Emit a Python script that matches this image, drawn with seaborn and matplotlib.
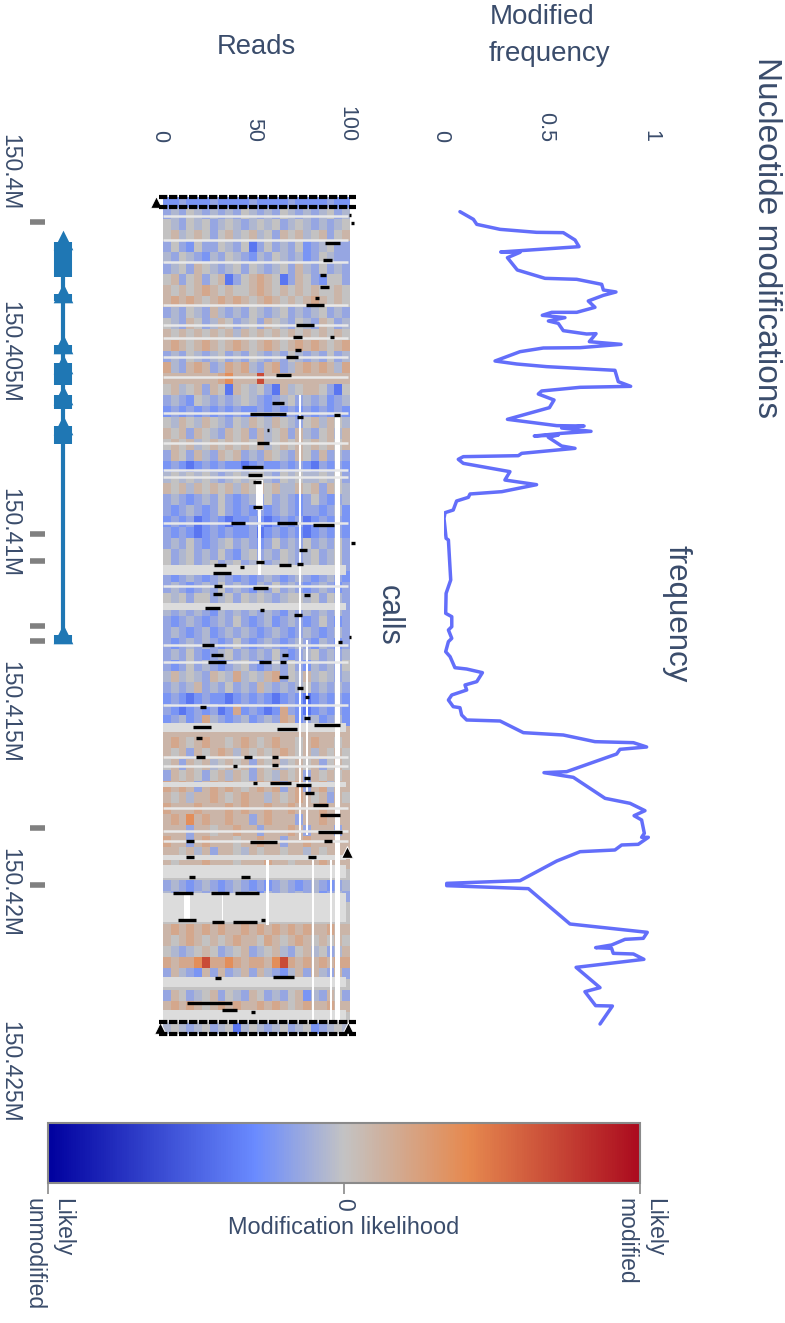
import numpy as np
import pandas as pd
import matplotlib
matplotlib.use('Agg')
import matplotlib.pyplot as plt
from matplotlib.colors import LinearSegmentedColormap
from matplotlib.transforms import ScaledTranslation
import seaborn as sns

# all positions along the gene are kb after 150.4M
freq_kb = [1.102,1.315,1.454,1.593,1.676,1.685,1.889,2.074,2.148,2.222,2.231,2.38,2.722,2.954,2.981,3.12,3.278,3.333,3.426,3.583,3.759,3.898,3.898,3.981,4.046,4.139,4.204,4.407,4.5,4.491,4.713,4.787,4.88,4.889,4.991,5.25,5.333,5.407,5.509,5.824,5.954,5.981,6.083,6.167,6.333,6.546,6.87,7.046,7.056,7.111,7.204,7.259,7.333,7.306,7.37,7.611,7.676,7.741,7.815,7.88,7.907,7.981,8.093,8.324,8.556,8.685,8.88,8.944,9.037,9.139,9.389,9.463,9.62,10.176,10.222,11.333,11.704,12.259,12.352,12.63,12.722,12.954,13.046,13.324,13.463,13.769,13.806,13.907,14.157,14.25,14.389,14.528,14.667,14.852,14.88,15.083,15.222,15.25,15.574,15.639,15.824,15.852,15.972,16.037,16.167,16.657,16.685,16.815,17.398,17.537,17.741,17.88,18.0,18.37,18.481,18.481,18.676,18.694,18.833,18.88,19.139,19.685,19.76,19.824,19.907,20.889,21.12,21.287,21.315,21.472,21.546,21.565,21.704,21.722,21.87,22.093,22.657,22.769,23.157,23.167,23.667]
freq_val = [.076,.14,.156,.267,.441,.568,.624,.643,.457,.27,.362,.302,.349,.481,.632,.751,.759,.819,.759,.687,.719,.632,.513,.468,.576,.497,.544,.568,.679,.724,.692,.843,.648,.473,.362,.243,.346,.489,.814,.83,.889,.648,.465,.449,.524,.502,.302,.537,.667,.56,.7,.56,.43,.544,.497,.56,.624,.505,.37,.354,.092,.068,.092,.314,.29,.441,.275,.124,.116,.06,.044,.005,0,.01,.021,.032,.01,.008,.037,.037,.021,.037,.021,.008,.029,.052,.108,.183,.156,.1,.108,.037,.021,.044,.076,.084,.108,.267,.378,.568,.719,.902,.965,.838,.822,.584,.476,.616,.767,.886,.957,.905,.941,.954,.941,.973,.925,.846,.814,.648,.537,.362,.013,.013,.402,.6,.968,.949,.862,.798,.722,.798,.806,.902,.952,.629,.743,.671,.722,.802,.743]

freq_ticks = [0, 0.5, 1]
read_ticks = [0, 50, 100]
genome_ticks = [0, 5, 10, 15, 20, 25]
genome_labels = ['150.4M', '150.405M', '150.41M', '150.415M', '150.42M', '150.425M']

rug_kb = [1.39, 10.06, 10.81, 12.61, 13.03, 18.22, 19.81]
gene_span = [1.9, 13.0]
gene_marks = [1.89,3.36,4.78,5.34,6.2,7.03,12.82]
exon_from = [1.95,3.4,4.8,5.3,6.2,7.05,12.85]
exon_to = [2.92,3.58,5.06,5.92,6.58,7.56,13.11]

# letters run from blue through grey to red
tone = {'a':-.4,'b':-.25,'c':-.15,'d':-.07,'e':0,'f':.1,'g':.2,'h':.38,'i':.7}
call_rows = [
'bbcbbbcbbbbcbbbbcbbbbcbb','cdcedcdcdcedcdcedcdcdecd','edcedecdedcdedecdedcdcde','efdefecefdefdecfefdefcef',
'cecbeccedceacecdcebcdecc','dcedcbdcedcbdcedcdbcedcc','cdecfedcdecedcdecfdcecdc','efcefcefacefgfeacfecbeec',
'fefefgfefeefgfefefefeefe','fgfgfefgfgfefgfefefgfefe','cdcedcfdcdcedcdecdcdecdc','edcfecdfecdecfedcedcfecd',
'fefefefefdfefefefefefefe','fgfefgfefgfefgfefgfgfefg','cdcedcdecdcedcdcedcdcecd','gdcfgfcdgfgdcfgcdfgfgfdg',
'fffffffghfffifffffffffff','efdefcfeafedecafdeffecae','cdcbedcdcdedcbcdecdcdbcd','bcbcbcbcbcbbcbcbcbcbcbcb',
'edfedfedcedfedfedcefdfed','fefcfedcfefcfdefcfdcefdf','efefdefefefefdefefefefef','cfecfdcfefcdcfedcfecfcdc',
'bcbabcbcbbabcbbcbcbacbcb','dedededcdedeedcededdedec','fefdfefefdfefefddfefcfed','cdcbcdcecbcdcecdcbcecbcd',
'cbcdcbcecbcbcbcdcbccbcdb','bcbcabcbabbcbabcbcabcbcb','cbcbabcbcbbcabcbcbabcbcb','cdcecbcdecdcbcecdcecdcec',
'ecdecdcecbdecdcedcdecdec','ecdecdecdecdecdedcdecdec','cbcdcbcdcbcbcdcbcdcbcdcb','cdcbcdcecdcbdcecdcbcdcbc',
'edeceecdecededcdeedecedc','dcdcdcbdcdcdcdcbdcdcdcdc','cbcdcbcdcecbcdbcdcbcecbc','cdcbcdbcdcdcbcdcbcdcbcdc',
'cbcdcdcbcecbcdcbcdcbdcbc','cdcecbcdecdcdcecbcdecdcd','cbcecdcbcdecbcdcecbdcdce','dfdedcfedgdedfgcedfdedcd',
'cdcdfcdcecdcfdcdcdecdcdc','bcbabcbbabcbcbabcbabcbcb','cbabcbcabgbcbabgcbabcbcb','bcdbcgdcbcdbcdcgfbcdbcdb',
'ffffffffffffffffffffffff','fgfefgffefgfefgffefgffef','fefcfefgfdfefefgfefdfefe','efcfefdefefcfefdefefcefe',
'cfefecefdfecfedfefcfefef','gfgfcfgfgfefgfgcfgcfgdff','fefdffgfefgffdfefgfefcfe','gfffgfffgfgffgffgfffgfff',
'fgfhfgffgffcfgfffcffgfff','fffcffeffgffcfffgfcfffcf','gffcfgfffeffgffcffgfffff','ffefdfcffedfeffeffdfefff',
'fefffgfffefffgffefffgfff','eeeeeeeeeeeeeeeeeeeeeeee','cdcbcdcbcdcbcbcdcbcdcbcd','dcdbdcdbcdcdbdcdcdcdbcdc',
'eeeeeeeeeeeeeeeeeeeeeeee','eeeeeeeeeeeeeeeeeeeeeeee','fgfgfgfgffgfgfgfgfgffgff','fefgfefefgffegfefgfefefe',
'edcdefecdefcdefdcefdecdf','gfgghigghgfggfhigfgfgfgg','cfdcbfcfcdfcfdcbdfcfdcfc','eeeeeeeeeeeeeeeeeeeeeeee',
'cfecdefcedcfecdcefbdcfec','fgfgfefgfgffgfgfefgffgff','eeeeeeeeeeeeeeeeeeeeeeee','dedcdecdeadedcdecdebcded',
]

# reads with no calls over a stretch, light grey rows
nocall_from = [10.92,11.97,15.31,16.94,18.97,19.25,20.03,22.36,23.28]
nocall_to = [11.19,12.17,15.56,17.08,19.11,19.61,20.83,22.64,23.61]
stripe_kb = [1.22,1.89,2.5,3.69,4.25,4.61,5.14,5.69,6.69,7.53,8.28,8.47,9.75,11.5,13.14,13.61,14.81,16.25,16.5,17.67,18.31,18.58]

# columns without reads
gap_read_from = [49.5,51,72.5,76.5,92,11,31.5,55,79.5,89.5]
gap_read_to = [53.5,52.5,74,77.5,94.5,14.5,32.3,56.5,80.5,90.3]
gap_kb_from = [8.56,9.39,6.19,13,6.75,20.08,20.08,19.11,19.11,19.11]
gap_kb_to = [9.39,11.19,18.56,18.42,23.56,20.78,20.78,20.92,23.56,23.56]

# black indel marks
mark_read = [100,101.6,90.4,88.2,85.6,86.6,82.4,81.3,75.9,90.4,71.7,72.2,69,64.2,61.5,56.1,73.3,93,56.1,53.5,48.1,49.2,50.3,50.3,40.1,66.3,85.6,101.6,74.9,51.9,65.2,73.3,30.5,31.6,42.2,29.4,51.9,28.9,77,26.7,52.9,72.2,24.1,94.7,100,28.9,65.2,64.2,28.9,54.5,64.2,73.3,77,21.4,77,20.9,66.3,87.7,19.3,19.8,45.5,59.9,38.5,59.9,77,49.2,74.9,62.6,78.6,84,89.3,89.3,14.4,53.5,88.2,14.4,79.7,43.9,15.5,10.7,30.5,44.9,12.8,29.4,43.9,53.5,29.4,64.2,25.1,48.1,35.8]
mark_kb = [1.19,1.42,1.97,2.44,2.86,3.19,3.5,3.69,4.25,4.58,4.58,4.94,5.14,5.64,6.42,6.72,6.81,6.75,7.17,7.53,8.19,8.42,8.61,9.31,9.75,9.75,9.81,10.31,10.5,10.83,10.92,10.89,10.92,11.14,10.97,11.5,11.56,11.72,11.75,12.11,12.17,12.31,13.14,13.06,12.92,13.42,13.42,13.61,13.61,13.61,14.03,14.33,14.58,14.86,15.17,15.42,15.47,15.36,15.72,16.25,16.25,16.25,16.5,16.47,16.83,16.97,17.03,16.97,17.25,17.58,17.86,18.33,18.58,18.61,18.58,19.03,19.03,19.58,19.58,20.03,20.03,20.03,20.78,20.83,20.83,20.78,22.39,22.36,23.08,23.33,23.28]
mark_span = [2,2,10,6,4,6,3,12,12,3,6,4,8,10,8,24,4,4,1,8,14,10,5,6,10,14,14,3,5,5,8,4,8,12,3,5,10,6,4,10,3,5,8,3,2,8,4,4,12,8,6,4,3,4,4,12,14,18,4,6,5,4,3,4,4,3,10,14,6,10,14,16,5,18,5,5,5,6,4,14,12,16,12,8,16,3,4,14,30,3,10]
edge_kb = [0.69, 0.98, 23.6, 23.94]
end_read = [-3.7, -1.6, 98.4, 98.9]
end_kb = [0.83, 23.78, 18.89, 23.78]

W, H = 785, 1323
TXT = '#3a4c6b'

sns.set_theme(style='white')
plt.rcParams['font.family'] = ['Liberation Sans', 'DejaVu Sans']

fig = plt.figure(figsize=(W/100, H/100), dpi=100)

def box(x0, y0, x1, y1):
    return fig.add_axes([x0/W, 1-y1/H, (x1-x0)/W, (y1-y0)/H])

def label(x, y, s, size, rot=0):
    fig.text(x/W, 1-y/H, s, fontsize=size, color=TXT, rotation=rot, ha='center', va='center')

def nudge(ax):
    # rotated tick text sits a little right of the tick
    shift = ScaledTranslation(-3/100, 0, fig.dpi_scale_trans)
    for t in ax.get_xticklabels():
        t.set_transform(t.get_transform() + shift)

TOP, BOTTOM = 150, 1075
kb_lim = ((BOTTOM-172)/36, (TOP-172)/36)

# frequency line
ax_f = box(444, TOP, 654, BOTTOM)
sns.lineplot(x=freq_val, y=freq_kb, sort=False, estimator=None, color='#636efa', lw=2.5, ax=ax_f)
ax_f.set_xlim(0, 1)
ax_f.set_ylim(*kb_lim)
ax_f.set_yticks([])
ax_f.xaxis.tick_top()
ax_f.set_xticks(freq_ticks, [str(t) for t in freq_ticks], rotation=270, fontsize=15.5, color=TXT)
ax_f.tick_params(axis='x', length=0, pad=6)
nudge(ax_f)
sns.despine(ax=ax_f, left=True, bottom=True, top=True, right=True)

# read calls
cmap = LinearSegmentedColormap.from_list('mod', [(0,'#00009e'),(.35,'#6a8bff'),(.5,'#c3c3c3'),(.71,'#e6894f'),(1,'#ab0a1e')])
calls = pd.DataFrame([[tone[c] for c in row[:24].ljust(24,'e')] for row in call_rows])
ax_h = box(163, 197, 350, 1034)
ax_c = box(48, 1123, 640, 1183)
sns.heatmap(calls, ax=ax_h, cmap=cmap, vmin=-1, vmax=1, xticklabels=False, yticklabels=False,
            cbar_ax=ax_c, cbar_kws={'orientation':'horizontal', 'ticks':[-1, 0, 1]})

ax_r = box(150, TOP, 365, BOTTOM)
ax_r.patch.set_alpha(0)
ax_r.set_xlim((150-163)/1.87, (365-163)/1.87)
ax_r.set_ylim(*kb_lim)
for a, b in zip(nocall_from, nocall_to):
    ax_r.fill_between([0, 98], a, b, color='#dcdcdc', lw=0)
ax_r.hlines(stripe_kb, 0, 99, color='#e8e8e8', lw=1.8)
for r0, r1, a, b in zip(gap_read_from, gap_read_to, gap_kb_from, gap_kb_to):
    ax_r.fill_betweenx([a, b], r0, r1, color='white', lw=0)
mr, mk, ms = np.array(mark_read), np.array(mark_kb), np.array(mark_span)*0.8
ax_r.hlines(mk, mr-ms/2, mr+ms/2, color='black', lw=2.4)
ax_r.hlines(edge_kb, -2, 103, color='black', lw=3, ls=(0, (2, 0.4)))
sns.scatterplot(x=end_read, y=end_kb, marker='^', s=70, color='black', ax=ax_r, legend=False)
ax_r.set_xlim((150-163)/1.87, (365-163)/1.87)
ax_r.set_ylim(*kb_lim)
ax_r.set_yticks([])
ax_r.xaxis.tick_top()
ax_r.set_xticks(read_ticks, [str(t) for t in read_ticks], rotation=270, fontsize=15.5, color=TXT)
ax_r.tick_params(axis='x', length=0, pad=6)
nudge(ax_r)
sns.despine(ax=ax_r, left=True, bottom=True, top=True, right=True)

# colour bar
cbar = ax_h.collections[0].colorbar
cbar.outline.set_edgecolor('#8a8a8a')
cbar.outline.set_linewidth(1.5)
cbar.set_ticklabels(['Likely\nunmodified', '0', 'Likely\nmodified'])
for t in ax_c.get_xticklabels():
    t.set(rotation=270, fontsize=16.5, color=TXT, va='top', ha='center', multialignment='left', linespacing=1.3)
ax_c.tick_params(axis='x', length=8, width=1.2, color='#8a8a8a', pad=3, bottom=True)

# gene track and rug
ax_g = box(30, TOP, 80, BOTTOM)
sns.rugplot(y=rug_kb, height=0.3, color='#808080', linewidth=4, ax=ax_g)
x_gene = 0.66
ax_g.plot([x_gene, x_gene], gene_span, color='#1f77b4', lw=3)
ax_g.vlines([x_gene]*len(exon_from), exon_from, exon_to, color='#1f77b4', lw=13)
sns.scatterplot(x=[x_gene]*len(gene_marks), y=gene_marks, marker='^', s=200, color='#1f77b4', linewidth=0, ax=ax_g, legend=False)
ax_g.set_xlim(0, 1)
ax_g.set_ylim(*kb_lim)
ax_g.set_xticks([])
ax_g.set_yticks(genome_ticks, genome_labels, rotation=270, fontsize=16.5, color=TXT, va='center')
ax_g.tick_params(axis='y', length=0, pad=6)
sns.despine(ax=ax_g, left=True, bottom=True, top=True, right=True)

label(767, 238, 'Nucleotide modifications', 24, 270)
label(677, 614, 'frequency', 22.5, 270)
label(389, 615, 'calls', 22, 270)
label(542, 17, 'Modified', 20)
label(549, 54, 'frequency', 20)
label(256, 47, 'Reads', 19.7)
label(344, 1228, 'Modification likelihood', 16.9)

fig.savefig('out.png', dpi=100)
